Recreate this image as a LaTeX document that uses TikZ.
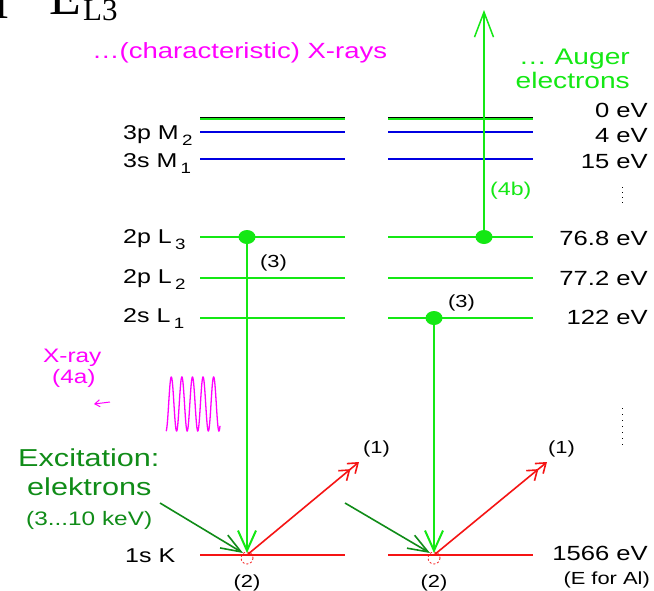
\documentclass[tikz,border=0pt]{standalone}
\usepackage{fontspec}
\setmainfont{Liberation Sans}[FakeStretch=1.25]
\newfontfamily\serifE{Liberation Serif}
\usetikzlibrary{arrows.meta,shapes.geometric}
\definecolor{lgreen}{RGB}{20,232,20}
\definecolor{dgreen}{RGB}{16,140,24}
\definecolor{lblue}{RGB}{0,0,225}
\definecolor{lred}{RGB}{245,20,20}
\definecolor{mag}{RGB}{255,0,255}
\newcommand{\sbs}[1]{\,\raisebox{-6pt}{\fontsize{15}{15}\selectfont #1}}
\begin{document}
\begin{tikzpicture}[x=1pt,y=-1pt,
  lvlabel/.style={font=\fontsize{20}{24}\selectfont, anchor=base west, inner sep=0pt},
  evlabel/.style={font=\fontsize{20.5}{24}\selectfont, anchor=base east, inner sep=0pt},
  numlabel/.style={font=\fontsize{17.5}{20}\selectfont, anchor=base west, inner sep=0pt},
  gline/.style={lgreen, line width=2pt},
  dotnode/.style={ellipse, fill=lgreen, minimum width=17pt, minimum height=14pt, inner sep=0pt},
  vtip/.style={-{Straight Barb[length=20pt,width=18pt]}},
  rtip/.style={-{Straight Barb[length=9pt,width=13pt]Straight Barb[length=9pt,width=13pt]}},
  dtip/.style={-{Straight Barb[length=20pt,width=15pt]}}
]
\useasboundingbox (0,0) rectangle (654,590);
\fill[white] (0,0) rectangle (654,590);

% top-left serif text (cut)
\node[font=\serifE\fontsize{48}{48}\selectfont, anchor=base east, inner sep=0pt] (tI) at (10,18) {I};
\node[font=\serifE\fontsize{52}{52}\selectfont, anchor=base west, inner sep=0pt] (tE) at (49,14) {E};
\node[font=\serifE\fontsize{31}{31}\selectfont, anchor=base west, inner sep=0pt] (tL) at (83,20) {L3};

% headings
\node[mag, font=\fontsize{22}{26}\selectfont, anchor=base west, inner sep=0pt] (hx) at (92,58) {…(characteristic) X-rays};
\node[lgreen, font=\fontsize{22.5}{26}\selectfont, anchor=base east, inner sep=0pt] (ha) at (630,64) {… Auger};
\node[lgreen, font=\fontsize{22.5}{26}\selectfont, anchor=base east, inner sep=0pt] (he) at (630,88) {electrons};

% level lines
\foreach \xa/\xb/\n in {200/345/L,388/533/R}{
  \draw[lgreen, line width=2.5pt] (\xa,119) -- (\xb,119);
  \draw[black, line width=1.4pt] (\xa,117.3) -- (\xb,117.3);
  \draw[lblue, line width=1.1pt] (\xa,132) -- (\xb,132);
  \draw[lblue, line width=2.6pt] (\xa,159) -- (\xb,159);
  \draw[gline] (\xa,237) -- (\xb,237);
  \draw[gline] (\xa,278) -- (\xb,278);
  \draw[gline] (\xa,318) -- (\xb,318);
  \draw[lred, line width=1.4pt] (\xa,555) -- (\xb,555);
}

% left labels
\node[lvlabel] (m2) at (123,139) {3p M\sbs{2}};
\node[lvlabel] (m1) at (123,167) {3s M\sbs{1}};
\node[lvlabel] (l3) at (123,243) {2p L\sbs{3}};
\node[lvlabel] (l2) at (123,283) {2p L\sbs{2}};
\node[lvlabel] (l1) at (123,322) {2s L\sbs{1}};
\node[lvlabel] (k)  at (125,562) {1s K};

% right labels
\node[evlabel] (e0) at (648,117) {0 eV};
\node[evlabel] (e4) at (648,142) {4 eV};
\node[evlabel] (e15) at (648,168) {15 eV};
\node[evlabel] (e768) at (648,245) {76.8 eV};
\node[evlabel] (e772) at (648,285) {77.2 eV};
\node[evlabel] (e122) at (648,324) {122 eV};
\node[evlabel] (e1566) at (648,560) {1566 eV};
\node[font=\fontsize{17.5}{20}\selectfont, anchor=base east, inner sep=0pt] (efor) at (650,584) {(E for Al)};
\draw[black, line width=1pt, dash pattern=on 1pt off 4pt] (622,187) -- (622,206);
\draw[black, line width=1pt, dash pattern=on 1pt off 5pt] (622,408) -- (622,448);

% key points
\coordinate (holeL) at (247,555);
\coordinate (holeR) at (434,555);
\coordinate (tipL) at (247,553);
\coordinate (tipR) at (434,553);
\coordinate (augerTop) at (484,10);
\coordinate (exL) at (160,503);
\coordinate (exR) at (345,503);
\coordinate (exLt) at (243,553);
\coordinate (exRt) at (430,553);
\coordinate (outL) at (359,462);
\coordinate (outR) at (547,462);

% holes
\draw[lred, line width=0.8pt, dash pattern=on 2pt off 2pt] (247,558) circle (6);
\draw[lred, line width=0.8pt, dash pattern=on 2pt off 2pt] (434,558) circle (6);

% electrons (dots)
\node[dotnode] (eL) at (247,237) {};
\node[dotnode] (eR) at (434,318) {};
\node[dotnode] (eA) at (484,237) {};

% transitions
\draw[lgreen, line width=2pt, vtip] (eL.center) -- (tipL);
\draw[lgreen, line width=2pt, vtip] (eR.center) -- (tipR);
\draw[lgreen, line width=1.5pt, -{Straight Barb[length=25pt,width=19pt]}] (eA.center) -- (augerTop);

% incident electrons
\draw[dgreen, line width=1.6pt, dtip] (exL) -- (exLt);
\draw[dgreen, line width=1.6pt, dtip] (exR) -- (exRt);

% ejected electrons
\draw[lred, line width=1.6pt, rtip] (holeL) -- (outL);
\draw[lred, line width=1.6pt, rtip] (holeR) -- (outR);

% small labels
\node[numlabel] (n1L) at (363,453) {(1)};
\node[numlabel] (n1R) at (548,453) {(1)};
\node[numlabel, anchor=base] (n2L) at (247,587) {(2)};
\node[numlabel, anchor=base] (n2R) at (434,587) {(2)};
\node[numlabel] (n3L) at (260,267) {(3)};
\node[numlabel] (n3R) at (448,307) {(3)};
\node[lgreen, font=\fontsize{18.5}{20}\selectfont, anchor=base west, inner sep=0pt] (n4b) at (490,195) {(4b)};

% X-ray emission
\node[mag, font=\fontsize{19.5}{22}\selectfont, anchor=base west, inner sep=0pt] (xr) at (43,362) {X-ray};
\node[mag, font=\fontsize{19.5}{22}\selectfont, anchor=base west, inner sep=0pt] (x4a) at (52,383) {(4a)};
\coordinate (xsA) at (110,402);
\coordinate (xsB) at (94,404);
\draw[mag, line width=1pt, -{Straight Barb[length=5pt,width=7pt]}] (xsA) -- (xsB);
\draw[mag, line width=1.3pt] plot[domain=0:54, samples=300, smooth] ({166+\x}, {404+27*sin(\x*34+90)});

% excitation text
\node[dgreen, font=\fontsize{24.5}{28}\selectfont, anchor=base west, inner sep=0pt] (exc) at (18,466) {Excitation:};
\node[dgreen, font=\fontsize{24.5}{28}\selectfont, anchor=base west, inner sep=0pt] (ele) at (27,495) {elektrons};
\node[dgreen, font=\fontsize{19.5}{22}\selectfont, anchor=base west, inner sep=0pt] (kev) at (26,525) {(3...10 keV)};
\end{tikzpicture}
\end{document}
